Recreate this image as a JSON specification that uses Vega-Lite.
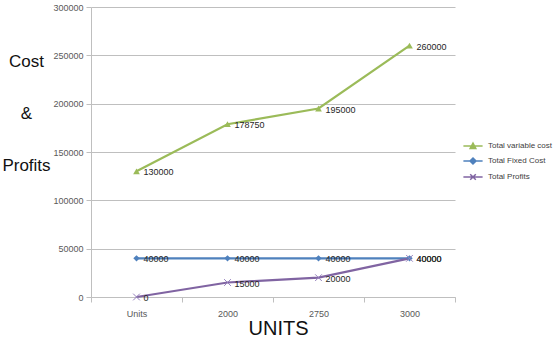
{
  "$schema": "https://vega.github.io/schema/vega-lite/v6.json",
  "width": 364,
  "height": 290,
  "autosize": {"type": "none"},
  "padding": {"left": 91, "top": 7, "right": 105, "bottom": 42},
  "background": "white",
  "config": {"view": {"stroke": null}, "font": "Liberation Sans"},
  "data": {
    "values": [
      {"units": "Units", "series": "Total variable cost", "value": 130000},
      {"units": "2000", "series": "Total variable cost", "value": 178750},
      {"units": "2750", "series": "Total variable cost", "value": 195000},
      {"units": "3000", "series": "Total variable cost", "value": 260000},
      {"units": "Units", "series": "Total Fixed Cost", "value": 40000},
      {"units": "2000", "series": "Total Fixed Cost", "value": 40000},
      {"units": "2750", "series": "Total Fixed Cost", "value": 40000},
      {"units": "3000", "series": "Total Fixed Cost", "value": 40000},
      {"units": "Units", "series": "Total Profits", "value": 0},
      {"units": "2000", "series": "Total Profits", "value": 15000},
      {"units": "2750", "series": "Total Profits", "value": 20000},
      {"units": "3000", "series": "Total Profits", "value": 40000}
    ]
  },
  "encoding": {
    "x": {
      "field": "units",
      "type": "ordinal",
      "sort": ["Units", "2000", "2750", "3000"],
      "scale": {"type": "band", "paddingInner": 0, "paddingOuter": 0},
      "axis": {
        "title": "UNITS",
        "titleFontSize": 20,
        "titleFontWeight": "normal",
        "titleColor": "#111111",
        "titleX": 187,
        "titleY": 37,
        "titleBaseline": "alphabetic",
        "labelAngle": 0,
        "labelFontSize": 9,
        "labelColor": "#595959",
        "labelPadding": 7,
        "tickBand": "extent",
        "tickSize": 5,
        "tickColor": "#bfbfbf",
        "domainColor": "#bfbfbf",
        "grid": false
      }
    },
    "y": {
      "field": "value",
      "type": "quantitative",
      "scale": {"domain": [0, 300000]},
      "axis": {
        "values": [0, 50000, 100000, 150000, 200000, 250000, 300000],
        "format": "d",
        "title": ["Cost", "&", "Profits"],
        "titleAngle": 0,
        "titleX": -65,
        "titleY": 59,
        "titleAlign": "center",
        "titleBaseline": "alphabetic",
        "titleFontSize": 17,
        "titleFontWeight": "normal",
        "titleLineHeight": 52,
        "titleColor": "#111111",
        "labelFontSize": 9,
        "labelColor": "#595959",
        "labelPadding": 3,
        "tickSize": 5,
        "tickColor": "#bfbfbf",
        "domainColor": "#bfbfbf",
        "gridColor": "#bfbfbf",
        "grid": true
      }
    }
  },
  "layer": [
    {
      "mark": {"type": "line", "strokeWidth": 2.25},
      "encoding": {
        "color": {
          "field": "series",
          "type": "nominal",
          "scale": {
            "domain": ["Total variable cost", "Total Fixed Cost", "Total Profits"],
            "range": ["#9bbb59", "#4f81bd", "#8064a2"]
          },
          "legend": {
            "orient": "none",
            "legendX": 373,
            "legendY": 130,
            "title": null,
            "padding": 0,
            "rowPadding": 0,
            "symbolSize": 256,
            "labelFontSize": 8,
            "labelColor": "#404040",
            "labelOffset": 6,
            "encode": {
              "symbols": {
                "update": {
                  "shape": {"signal": "datum.value === 'Total variable cost' ? 'M-1.2,0L1.2,0M-0.35,0.3L0,-0.35L0.35,0.3Z' : datum.value === 'Total Fixed Cost' ? 'M-1.2,0L1.2,0M0,-0.38L0.38,0L0,0.38L-0.38,0Z' : 'M-1.2,0L1.2,0M-0.35,-0.35L0.35,0.35M-0.35,0.35L0.35,-0.35'"},
                  "fill": {"scale": "color", "field": "value"},
                  "stroke": {"scale": "color", "field": "value"},
                  "strokeWidth": {"value": 1.5},
                  "opacity": {"value": 1}
                }
              }
            }
          }
        }
      }
    },
    {
      "transform": [{"filter": "datum.series === 'Total variable cost'"}],
      "mark": {"type": "point", "filled": true, "shape": "triangle-up", "size": 45, "opacity": 1, "color": "#9bbb59"},
      "encoding": {}
    },
    {
      "transform": [{"filter": "datum.series === 'Total Fixed Cost'"}],
      "mark": {"type": "point", "filled": true, "shape": "diamond", "size": 40, "opacity": 1, "color": "#4f81bd"},
      "encoding": {}
    },
    {
      "transform": [{"filter": "datum.series === 'Total Profits'"}],
      "mark": {"type": "point", "filled": false, "shape": "M-1,-1L1,1M-1,1L1,-1", "size": 45, "opacity": 1, "strokeWidth": 1, "color": "#9580bd"},
      "encoding": {}
    },
    {
      "mark": {"type": "text", "align": "left", "baseline": "middle", "dx": 7, "dy": 1, "fontSize": 9, "color": "#262626"},
      "encoding": {
        "text": {"field": "value", "type": "quantitative", "format": "d"}
      }
    }
  ]
}
